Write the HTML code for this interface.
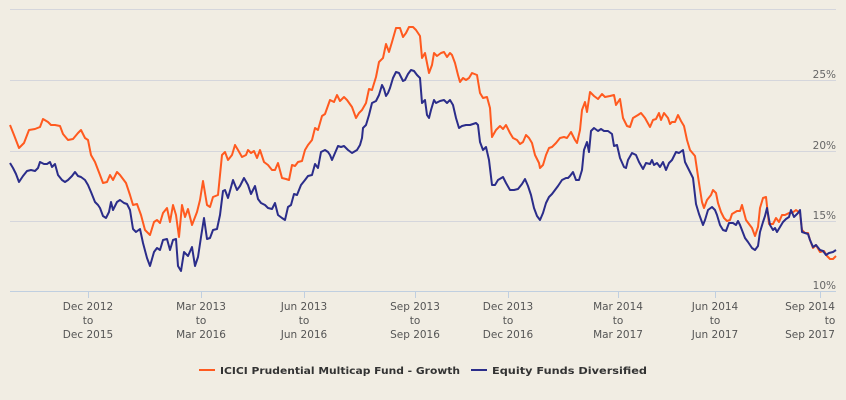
<!DOCTYPE html>
<html><head><meta charset="utf-8"><style>
body{margin:0;background:#f1ede3;}
svg{display:block;font-family:"DejaVu Sans","Liberation Sans",sans-serif;}
</style></head><body>
<svg width="846" height="400" viewBox="0 0 846 400">
<rect width="846" height="400" fill="#f1ede3"/>
<g stroke="#d5d6dc" stroke-width="1">
<line x1="10" y1="9.5" x2="836" y2="9.5"/>
<line x1="10" y1="80.5" x2="836" y2="80.5"/>
<line x1="10" y1="151.5" x2="836" y2="151.5"/>
<line x1="10" y1="221.5" x2="836" y2="221.5"/>
</g>
<line x1="10" y1="291.5" x2="836" y2="291.5" stroke="#c0cfe0"/>
<g stroke="#c0cfe0"><line x1="88.5" y1="291" x2="88.5" y2="298"/><line x1="201.5" y1="291" x2="201.5" y2="298"/><line x1="304.5" y1="291" x2="304.5" y2="298"/><line x1="415.5" y1="291" x2="415.5" y2="298"/><line x1="508.5" y1="291" x2="508.5" y2="298"/><line x1="618.5" y1="291" x2="618.5" y2="298"/><line x1="715.5" y1="291" x2="715.5" y2="298"/><line x1="820.5" y1="291" x2="820.5" y2="298"/></g>
<g font-size="10.5" fill="#666" text-anchor="end">
<text x="836" y="78">25%</text><text x="836" y="149">20%</text><text x="836" y="219">15%</text><text x="836" y="289">10%</text>
</g>
<g font-size="10.5" fill="#555" text-anchor="middle">
<text x="88" y="310">Dec 2012</text><text x="88" y="324">to</text><text x="88" y="338">Dec 2015</text>
<text x="201" y="310">Mar 2013</text><text x="201" y="324">to</text><text x="201" y="338">Mar 2016</text>
<text x="304" y="310">Jun 2013</text><text x="304" y="324">to</text><text x="304" y="338">Jun 2016</text>
<text x="415" y="310">Sep 2013</text><text x="415" y="324">to</text><text x="415" y="338">Sep 2016</text>
<text x="508" y="310">Dec 2013</text><text x="508" y="324">to</text><text x="508" y="338">Dec 2016</text>
<text x="618" y="310">Mar 2014</text><text x="618" y="324">to</text><text x="618" y="338">Mar 2017</text>
<text x="715" y="310">Jun 2014</text><text x="715" y="324">to</text><text x="715" y="338">Jun 2017</text>
<text x="810" y="310">Sep 2014</text><text x="830" y="324">to</text><text x="810" y="338">Sep 2017</text>
</g>
<polyline fill="none" stroke="#ff5a1f" stroke-width="2" stroke-linejoin="round" points="10,125 14,135 19,148 24,143 29,130 35,129 40,127 43,119 48,122 51,125 55,125 60,126 63,134 68,140 73,139 78,133 81,130 85,138 88,140 91,155 95,162 100,175 103,183 107,182 110,175 113,180 117,172 120,175 126,183 130,195 133,205 137,204 141,215 145,230 150,235 154,222 157,220 160,223 163,213 167,208 170,222 173,205 176,215 179,237 182,205 185,217 188,209 192,225 197,212 200,200 203,181 207,205 210,207 213,197 218,195 222,155 225,152 228,160 232,155 235,145 238,150 242,157 246,155 248,150 251,153 254,151 257,158 260,150 264,162 268,165 272,170 275,170 278,163 282,178 286,179 289,180 292,165 295,166 298,162 302,161 305,150 308,145 312,140 315,128 318,130 322,116 325,114 330,100 334,102 337,95 340,101 344,97 347,100 352,107 356,118 359,113 362,110 366,103 369,89 372,90 376,77 379,62 383,58 386,44 389,52 392,42 396,28 400,28 403,37 406,33 409,27 413,27 416,30 420,36 422,58 425,53 429,73 432,65 434,53 437,56 441,53 444,52 447,57 450,53 452,55 455,63 458,75 460,82 463,78 466,80 469,78 472,73 477,75 480,93 483,98 487,97 490,108 492,137 496,130 500,126 503,129 506,125 510,133 513,138 517,140 520,144 523,142 526,135 529,138 532,143 535,155 539,163 540,168 543,165 546,155 549,148 552,147 556,143 560,138 564,137 567,138 571,132 575,140 577,143 580,130 582,110 585,102 587,112 590,92 594,96 598,99 602,94 605,97 610,96 614,95 616,105 620,99 623,118 627,126 630,127 633,118 638,115 641,113 645,118 650,127 653,120 656,119 659,113 661,120 664,113 668,118 670,124 672,122 675,122 678,115 681,121 684,126 687,140 690,150 695,156 699,183 702,202 704,208 707,200 711,195 713,190 716,193 718,203 721,212 724,218 727,221 730,220 732,214 737,211 740,211 742,205 746,220 749,224 752,228 755,236 758,227 760,208 763,198 766,197 769,224 773,224 776,218 779,222 782,215 785,215 789,213 792,213 796,210 800,213 802,230 805,233 808,233 810,240 813,248 816,245 820,252 824,251 827,256 830,259 833,259 836,256"/>
<polyline fill="none" stroke="#2b2d8a" stroke-width="2" stroke-linejoin="round" points="10,163 13,168 16,174 19,182 23,176 27,171 31,170 35,171 38,168 40,162 44,164 47,164 50,162 52,167 55,164 58,175 62,180 65,182 68,180 72,176 75,172 78,176 81,177 85,180 88,185 91,192 95,202 98,205 100,208 103,216 106,218 109,212 111,202 113,210 117,202 120,200 124,203 127,204 130,210 133,229 136,232 140,229 143,243 147,258 150,266 154,252 157,248 160,250 163,240 167,239 170,250 173,240 176,239 178,266 181,271 184,252 188,256 192,247 195,266 198,257 201,237 204,218 207,239 210,238 213,230 217,229 220,215 223,191 225,190 228,198 233,180 237,190 240,186 244,178 248,185 251,194 255,186 258,199 261,203 265,205 268,208 272,209 275,203 278,215 282,218 285,220 288,207 291,205 294,194 297,195 301,185 305,180 308,176 312,175 315,164 318,168 321,152 325,150 328,152 330,155 332,160 335,153 338,146 341,147 344,146 348,150 352,153 357,150 360,145 362,138 363,128 366,125 369,115 372,103 376,101 379,95 382,85 384,89 386,96 388,93 390,88 393,78 396,72 399,73 403,81 405,80 408,74 411,70 414,71 417,75 420,78 422,103 425,100 427,115 429,118 431,110 434,100 436,103 440,101 444,100 447,103 450,100 453,105 456,118 459,128 462,126 466,125 470,125 473,124 476,123 478,125 480,142 483,150 486,147 489,160 492,185 495,185 498,180 503,177 506,183 510,190 514,190 518,189 522,184 525,179 528,186 531,195 534,208 537,216 540,220 543,213 546,203 549,197 552,194 555,190 558,186 562,180 566,178 568,178 570,176 573,172 576,180 579,180 582,170 584,150 587,142 589,152 591,131 594,128 598,131 601,129 604,131 608,131 612,134 614,146 617,145 620,158 624,167 626,168 628,160 632,153 636,155 639,162 643,169 646,163 650,164 652,160 654,165 657,163 660,167 663,162 666,170 669,163 672,160 676,152 679,153 683,150 685,162 689,170 693,178 696,204 699,214 703,225 705,220 708,210 712,207 715,210 717,215 720,225 723,230 726,231 729,223 733,223 736,225 738,221 740,225 745,238 748,242 752,248 755,250 758,246 760,232 763,222 765,216 767,208 770,225 773,230 775,228 777,232 780,227 783,222 786,219 789,217 791,210 794,217 798,213 800,210 802,232 805,233 808,234 810,240 813,247 816,245 820,250 823,251 826,255 829,253 833,252 836,250"/>
<line x1="199" y1="370" x2="215" y2="370" stroke="#ff5a1f" stroke-width="2"/>
<text x="220" y="374" font-size="10" font-weight="bold" fill="#333" textLength="240" lengthAdjust="spacingAndGlyphs">ICICI Prudential Multicap Fund - Growth</text>
<line x1="471" y1="370" x2="487" y2="370" stroke="#2b2d8a" stroke-width="2"/>
<text x="492" y="374" font-size="10" font-weight="bold" fill="#333" textLength="155" lengthAdjust="spacingAndGlyphs">Equity Funds Diversified</text>
</svg>
</body></html>
